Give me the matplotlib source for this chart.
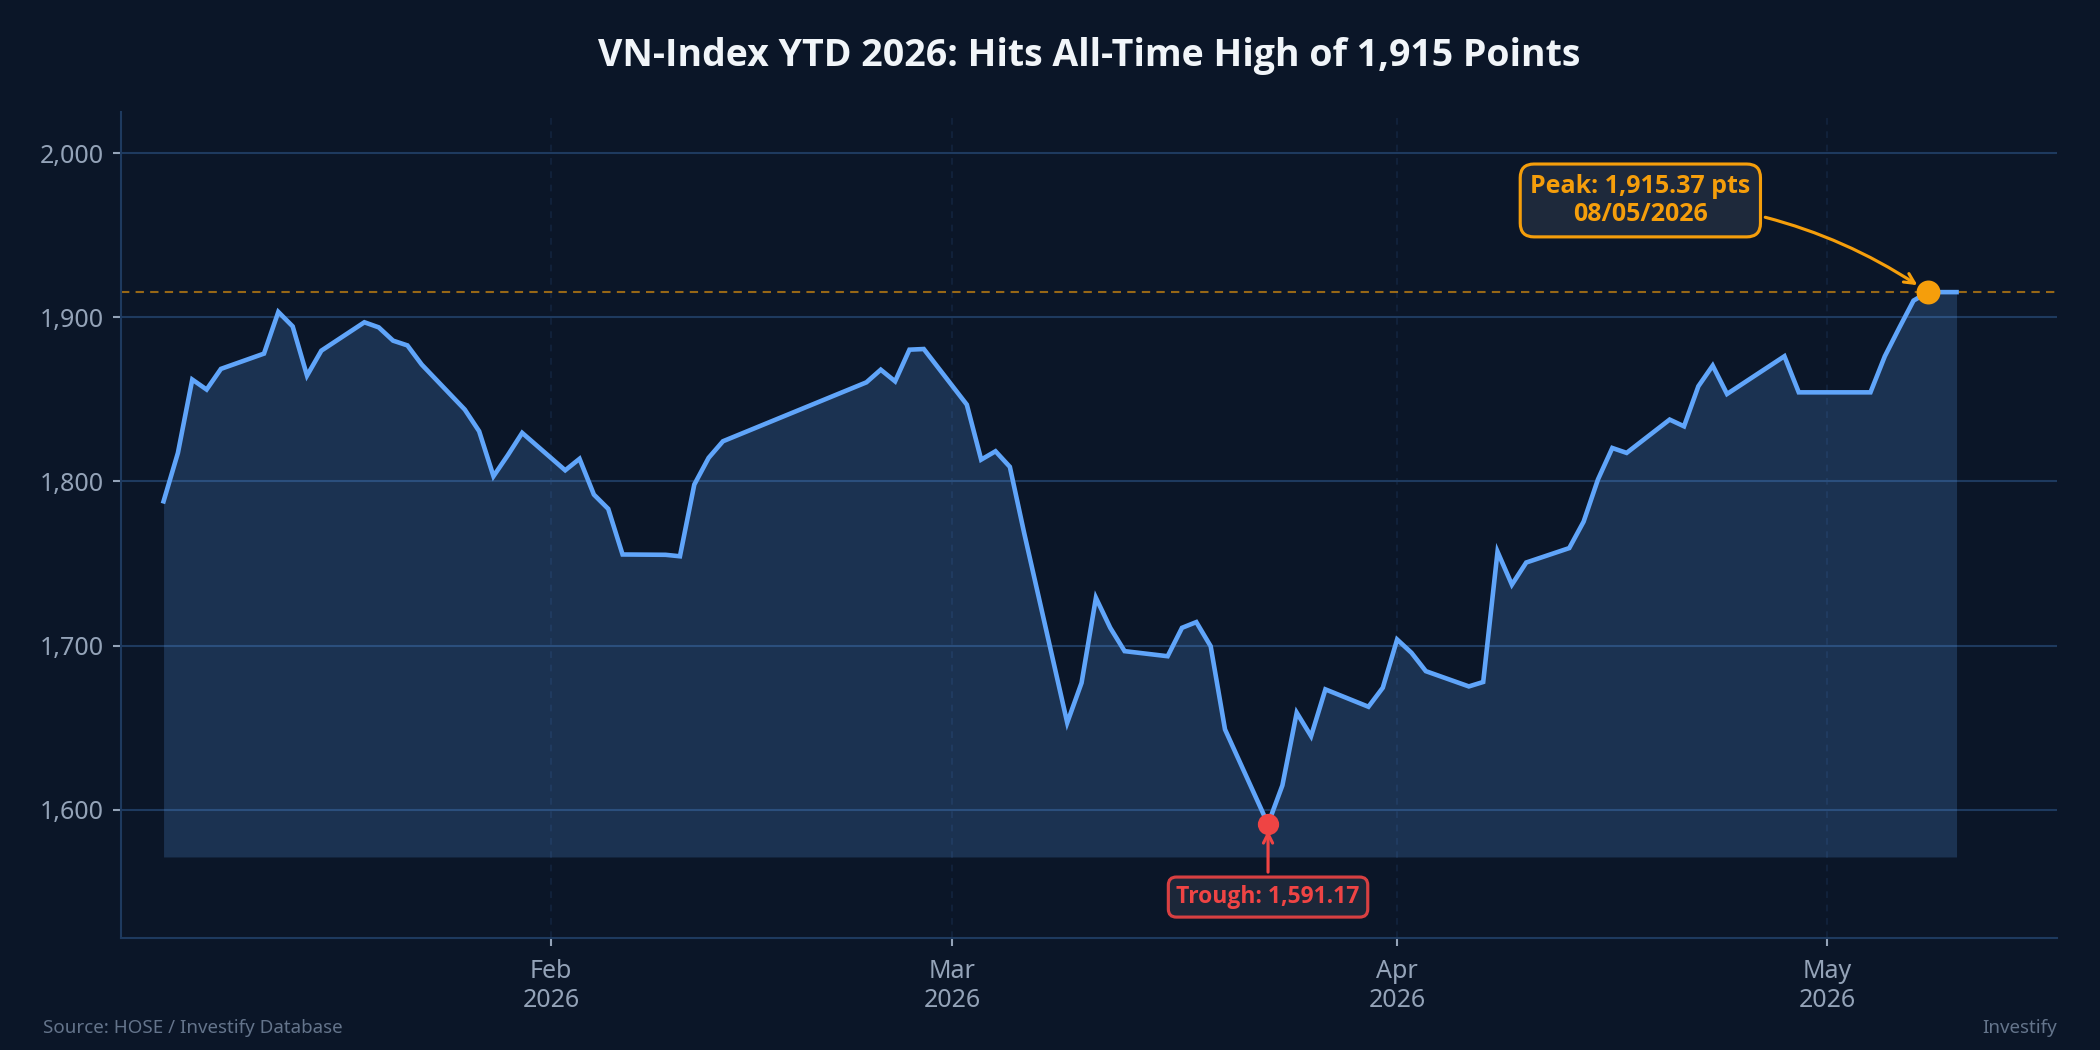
import matplotlib
matplotlib.use("Agg")
import matplotlib.pyplot as plt
import matplotlib.dates as mdates
import matplotlib.ticker as mticker
import numpy as np
import pandas as pd

plt.rcParams['font.family'] = ['Noto Sans', 'DejaVu Sans']
BOLD = ['Open Sans', 'DejaVu Sans']

# VN-Index closes (trading days, holidays carried flat)
dates = [
    "2026-01-05", "2026-01-06", "2026-01-07", "2026-01-08", "2026-01-09",
    "2026-01-12", "2026-01-13", "2026-01-14", "2026-01-15", "2026-01-16",
    "2026-01-19", "2026-01-20", "2026-01-21", "2026-01-22", "2026-01-23",
    "2026-01-26", "2026-01-27", "2026-01-28", "2026-01-29", "2026-01-30",
    "2026-02-02", "2026-02-03", "2026-02-04", "2026-02-05", "2026-02-06",
    "2026-02-09", "2026-02-10", "2026-02-11", "2026-02-12", "2026-02-13",
    "2026-02-23", "2026-02-24", "2026-02-25", "2026-02-26", "2026-02-27",
    "2026-03-02", "2026-03-03", "2026-03-04", "2026-03-05", "2026-03-06",
    "2026-03-09", "2026-03-10", "2026-03-11", "2026-03-12", "2026-03-13",
    "2026-03-16", "2026-03-17", "2026-03-18", "2026-03-19", "2026-03-20",
    "2026-03-23", "2026-03-24", "2026-03-25", "2026-03-26", "2026-03-27",
    "2026-03-30", "2026-03-31", "2026-04-01", "2026-04-02", "2026-04-03",
    "2026-04-06", "2026-04-07", "2026-04-08", "2026-04-09", "2026-04-10",
    "2026-04-13", "2026-04-14", "2026-04-15", "2026-04-16", "2026-04-17",
    "2026-04-20", "2026-04-21", "2026-04-22", "2026-04-23", "2026-04-24",
    "2026-04-28", "2026-04-29", "2026-05-04", "2026-05-05", "2026-05-06",
    "2026-05-07", "2026-05-08", "2026-05-09", "2026-05-10",
]
closes = [
    1787.9, 1817.4, 1862.1, 1856.0, 1868.6,
    1877.9, 1903.3, 1894.5, 1864.5, 1879.7,
    1897.0, 1893.9, 1885.8, 1882.9, 1871.2,
    1843.8, 1830.6, 1803.2, 1816.0, 1829.6,
    1806.8, 1813.8, 1792.0, 1783.3, 1755.5,
    1755.3, 1754.4, 1798.1, 1814.4, 1824.5,
    1860.4, 1868.1, 1861.0, 1880.3, 1880.7,
    1846.8, 1813.3, 1818.4, 1808.9, 1768.5,
    1653.0, 1677.3, 1729.1, 1710.8, 1696.6,
    1693.5, 1710.8, 1714.3, 1699.6, 1648.9,
    1591.17, 1614.8, 1659.1, 1644.8, 1673.3,
    1662.7, 1674.3, 1703.7, 1695.6, 1684.4,
    1675.1, 1677.8, 1757.2, 1737.1, 1750.6,
    1759.4, 1775.5, 1801.2, 1820.4, 1817.4,
    1837.7, 1833.6, 1858.0, 1870.6, 1853.3,
    1876.3, 1854.3, 1854.3, 1876.3, 1893.5,
    1910.2, 1915.37, 1915.37, 1915.37,
]

title = "VN-Index YTD 2026: Hits All-Time High of 1,915 Points"
source_note = "Source: HOSE / Investify Database"
brand = "Investify"

bg = "#0b1628"
line_c = "#60a5fa"
peak_c = "#f59e0b"
trough_c = "#ef4444"
grid_c = "#1e3a5f"
tick_c = "#94a3b8"
box_c = "#1e293b"

x = pd.to_datetime(dates)
y = np.array(closes)
i_peak = int(np.argmax(y))
i_trough = int(np.argmin(y))

fig = plt.figure(figsize=(14, 7), dpi=150, facecolor=bg)
ax = fig.add_axes([0.0574, 0.1062, 0.9221, 0.7874], facecolor=bg)

ax.fill_between(x, y, y.min() - 20, color=line_c, alpha=0.2, linewidth=0, zorder=2)
ax.plot(x, y, color=line_c, linewidth=2.2, zorder=3, solid_joinstyle="miter")

ax.axhline(y[i_peak], color=peak_c, linewidth=1, linestyle=(0, (4, 3)), alpha=0.6, zorder=2)

ax.scatter([x[i_peak]], [y[i_peak]], s=110, color=peak_c, zorder=5)
ax.scatter([x[i_trough]], [y[i_trough]], s=85, color=trough_c, zorder=5)

ax.annotate(
    f"Peak: {y[i_peak]:,.2f} pts\n{x[i_peak]:%d/%m/%Y}",
    xy=(x[i_peak], y[i_peak]), xytext=(-138, 44), textcoords="offset points",
    ha="center", va="center", fontsize=12, fontweight="bold", family=BOLD,
    color=peak_c, linespacing=1.15,
    bbox=dict(boxstyle="round,pad=0.4,rounding_size=0.55", facecolor=box_c,
              edgecolor=peak_c, linewidth=1.5),
    arrowprops=dict(arrowstyle="->", color=peak_c, linewidth=1.5,
                    connectionstyle="arc3,rad=-0.15", shrinkB=6),
    zorder=6,
)
ax.annotate(
    f"Trough: {y[i_trough]:,.2f}",
    xy=(x[i_trough], y[i_trough]), xytext=(0, -35), textcoords="offset points",
    ha="center", va="center", fontsize=11, fontweight="bold", family=BOLD,
    color=trough_c,
    bbox=dict(boxstyle="round,pad=0.35", facecolor=box_c, edgecolor=trough_c,
              linewidth=1.5, alpha=0.9),
    arrowprops=dict(arrowstyle="->", color=trough_c, linewidth=1.5, shrinkB=3),
    zorder=6,
)

ax.set_xlim(x[0] - pd.Timedelta(days=3), x[-1] + pd.Timedelta(days=7))
ax.set_ylim(1521.5, 2025.3)

ax.xaxis.set_major_locator(mdates.MonthLocator())
ax.xaxis.set_major_formatter(mdates.DateFormatter("%b\n%Y"))
ax.yaxis.set_major_locator(mticker.MultipleLocator(100))
ax.yaxis.set_major_formatter(mticker.FuncFormatter(lambda v, p: f"{v:,.0f}"))

ax.grid(axis="y", color=grid_c, linewidth=1, zorder=1)
ax.grid(axis="x", color=grid_c, linewidth=0.8, linestyle=(0, (4, 4)), alpha=0.4, zorder=1)
ax.set_axisbelow(True)

for s in ["top", "right"]:
    ax.spines[s].set_visible(False)
for s in ["left", "bottom"]:
    ax.spines[s].set_color(grid_c)
    ax.spines[s].set_linewidth(1)

ax.tick_params(colors=tick_c, labelsize=12, length=4, width=1, pad=4)
ax.tick_params(axis="x", pad=6)

fig.text(0.5185, 0.947, title, ha="center", va="center", fontsize=18,
         fontweight="bold", family=BOLD, color="#f1f5f9")
fig.text(0.0205, 0.021, source_note, ha="left", va="center", fontsize=9, color="#64748b")
fig.text(0.9795, 0.021, brand, ha="right", va="center", fontsize=9, color="#64748b")

fig.savefig("out.png", dpi=150, facecolor=bg)
